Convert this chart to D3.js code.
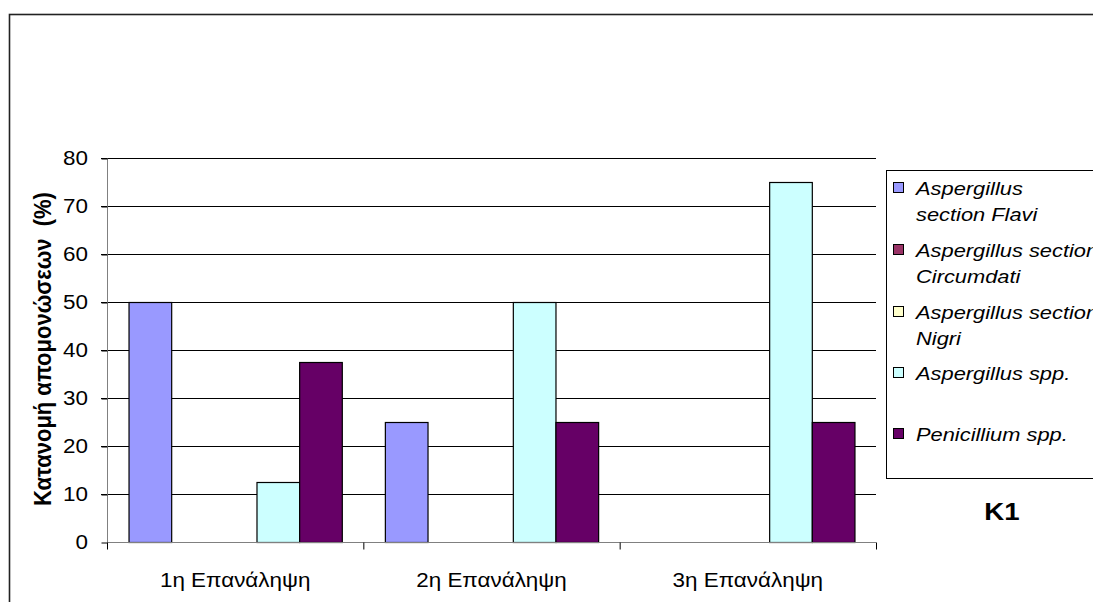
<!DOCTYPE html>
<html>
<head>
<meta charset="utf-8">
<script src="https://cdn.jsdelivr.net/npm/d3@7"></script>
<style>
  html, body { margin: 0; padding: 0; background: #fff; }
  svg { display: block; font-family: "Liberation Sans", Arial, sans-serif; }
  .ytitle { white-space: pre; }
</style>
</head>
<body>
<svg id="chart" width="1093" height="602"></svg>
<script>
// Repetitions on the x axis
const categories = ["1η Επανάληψη", "2η Επανάληψη", "3η Επανάληψη"];

// Fungal groups (legend order) and their colours
const seriesNames = [
  ["Aspergillus", "section Flavi"],
  ["Aspergillus section", "Circumdati"],
  ["Aspergillus section", "Nigri"],
  ["Aspergillus spp."],
  ["Penicillium spp."]
];
const seriesColors = ["#9999FF", "#993366", "#FFFFCC", "#CCFFFF", "#660066"];

// Isolate distribution (%) per repetition, one array per group
const flavi       = [50, 25, 0];
const circumdati  = [0, 0, 0];
const nigri       = [0, 0, 0];
const aspSpp      = [12.5, 50, 75];
const penicillium = [37.5, 25, 25];
const seriesValues = [flavi, circumdati, nigri, aspSpp, penicillium];

const yTicks = [0, 10, 20, 30, 40, 50, 60, 70, 80];
const yTitle = "Κατανομή απομονώσεων  (%)";
const panelLabel = "K1";

const svg = d3.select("#chart");

// outer frame
svg.append("rect")
  .attr("x", 9.5).attr("y", 14.5)
  .attr("width", 1300).attr("height", 800)
  .attr("fill", "none").attr("stroke", "#222").attr("stroke-width", 1.6);

const plot = { left: 107, right: 876, top: 158, bottom: 542 };

const x = d3.scaleBand().domain(categories).range([plot.left, plot.right]).padding(0);
const gapHalf = x.bandwidth() * 0.084;
const xs = d3.scaleBand().domain(d3.range(seriesValues.length))
  .range([gapHalf, x.bandwidth() - gapHalf]).padding(0);
const y = d3.scaleLinear().domain([0, 80]).range([plot.bottom, plot.top]);

const hScale = 1.15;

// gridlines with left ticks
svg.append("g").selectAll("line")
  .data(yTicks.filter(d => d > 0))
  .join("line")
  .attr("x1", plot.left - 6).attr("x2", plot.right)
  .attr("y1", d => Math.round(y(d)) + 0.5).attr("y2", d => Math.round(y(d)) + 0.5)
  .attr("stroke", "#000").attr("stroke-width", 1);

// bars
const groups = svg.append("g").selectAll("g")
  .data(categories)
  .join("g")
  .attr("transform", c => `translate(${x(c)},0)`);

groups.selectAll("rect")
  .data((c, ci) => seriesValues.map((vals, si) => ({ si, v: vals[ci] })))
  .join("rect")
  .filter(d => d.v > 0)
  .attr("x", d => xs(d.si) + 0.5)
  .attr("width", xs.bandwidth())
  .attr("y", d => y(d.v) + 0.5)
  .attr("height", d => y(0) - y(d.v))
  .attr("fill", d => seriesColors[d.si])
  .attr("stroke", "#000").attr("stroke-width", 1.2);

// y axis
const yAxis = d3.axisLeft(y).tickValues(yTicks).tickSize(6).tickPadding(9);
const gy = svg.append("g").attr("transform", `translate(${plot.left + 0.5},0.5)`).call(yAxis);
gy.select(".domain").attr("stroke", "#808080").attr("d", `M0,${plot.top}V${plot.bottom}`);
gy.selectAll(".tick line").attr("stroke", "#000");
gy.selectAll(".tick text")
  .attr("font-size", 19.5).attr("fill", "#000")
  .attr("font-family", "Liberation Sans, Arial, sans-serif")
  .attr("transform", function() {
    const xx = +d3.select(this).attr("x");
    return `translate(${xx * (hScale - 1)},0) scale(${hScale},1)`;
  });

// x axis
const xAxis = d3.axisBottom(x).tickSize(0).tickPadding(0).tickFormat("");
const gx = svg.append("g").attr("transform", `translate(0,${plot.bottom + 0.5})`).call(xAxis);
gx.select(".domain").attr("stroke", "#808080").attr("d", `M${plot.left},0H${plot.right}`);
gx.selectAll(".tick").remove();
const boundaries = [plot.left, ...categories.map(c => x(c) + x.bandwidth())];
gx.selectAll("line.bnd").data(boundaries).join("line")
  .attr("class", "bnd")
  .attr("x1", d => d + 0.5).attr("x2", d => d + 0.5)
  .attr("y1", 0).attr("y2", 7)
  .attr("stroke", "#000");

svg.append("g").selectAll("text")
  .data(categories)
  .join("text")
  .attr("transform", c => `translate(${x(c) + x.bandwidth() / 2},587) scale(${hScale},1)`)
  .attr("text-anchor", "middle")
  .attr("font-size", 19.5)
  .attr("fill", "#000")
  .text(c => c);

// y axis title
svg.append("text")
  .attr("class", "ytitle")
  .attr("transform", `translate(51,349) rotate(-90) scale(1,1.1)`)
  .attr("text-anchor", "middle")
  .attr("font-size", 22)
  .attr("font-weight", "bold")
  .attr("fill", "#000")
  .text(yTitle);

// legend
const legend = svg.append("g");
legend.append("rect")
  .attr("x", 886.5).attr("y", 170.5)
  .attr("width", 300).attr("height", 308)
  .attr("fill", "#fff").attr("stroke", "#000").attr("stroke-width", 1);

const legendY = [188, 250, 312, 373, 434];
const items = legend.selectAll("g.item")
  .data(seriesNames)
  .join("g")
  .attr("class", "item")
  .attr("transform", (d, i) => `translate(0,${legendY[i]})`);

items.append("rect")
  .attr("x", 893.5).attr("y", -5.5)
  .attr("width", 10).attr("height", 10)
  .attr("fill", (d, i) => seriesColors[i])
  .attr("stroke", "#000").attr("stroke-width", 1);

items.each(function(lines) {
  const g = d3.select(this);
  lines.forEach((line, li) => {
    g.append("text")
      .attr("transform", `translate(916,${li * 26 + 7}) scale(${hScale},1)`)
      .attr("font-size", 19)
      .attr("font-style", "italic")
      .attr("fill", "#000")
      .text(line);
  });
});

// panel label
svg.append("text")
  .attr("transform", `translate(1002,520) scale(1.2,1)`)
  .attr("text-anchor", "middle")
  .attr("font-size", 23)
  .attr("font-weight", "bold")
  .attr("fill", "#000")
  .text(panelLabel);
</script>
</body>
</html>
